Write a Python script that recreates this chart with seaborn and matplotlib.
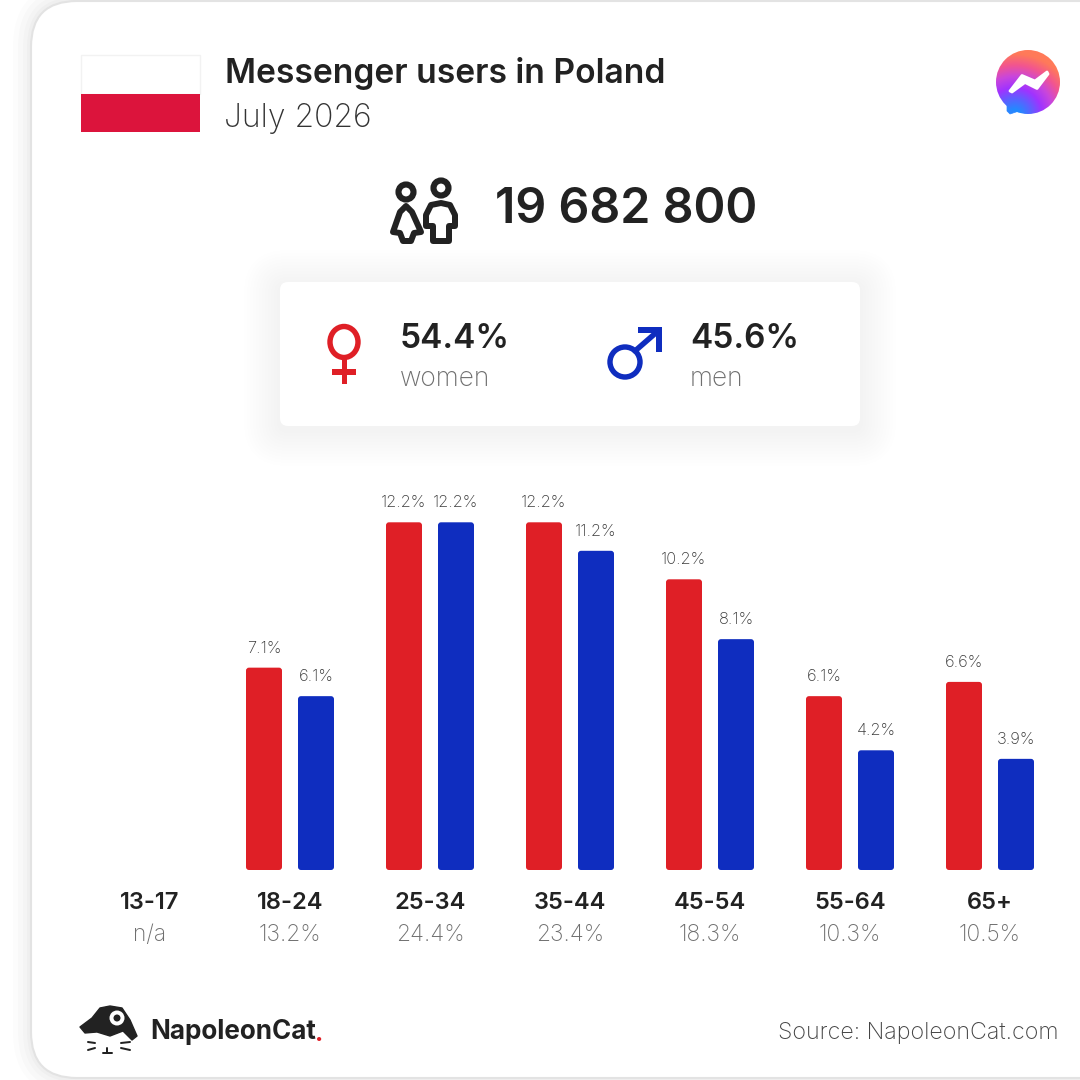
import matplotlib
matplotlib.use('Agg')
import matplotlib.pyplot as plt
from matplotlib.colors import LinearSegmentedColormap
from matplotlib.patches import Circle, Ellipse, FancyBboxPatch, PathPatch, Polygon, Rectangle
from matplotlib.path import Path
import numpy as np
import pandas as pd
import seaborn as sns

# Chart values
age_groups = ['13-17', '18-24', '25-34', '35-44', '45-54', '55-64', '65+']
age_shares = ['n/a', '13.2%', '24.4%', '23.4%', '18.3%', '10.3%', '10.5%']
women = [np.nan, 7.1, 12.2, 12.2, 10.2, 6.1, 6.6]
men = [np.nan, 6.1, 12.2, 11.2, 8.1, 4.2, 3.9]

title = 'Messenger users in Poland'
subtitle = 'July 2026'
total_users = '19 682 800'
women_share = '54.4%'
men_share = '45.6%'
source = 'Source: NapoleonCat.com'

RED = '#df1f26'
BLUE = '#0f2dbf'
DARK = '#222222'
GREY = '#6f6f6f'

sns.set_style('white')
plt.rcParams['font.family'] = ['Inter', 'DejaVu Sans']

fig = plt.figure(figsize=(10.8, 10.8), dpi=100, facecolor='white')

# background layer in pixel coordinates for card, icons and headers
bg = fig.add_axes([0, 0, 1, 1], zorder=0)
bg.set_xlim(0, 1080)
bg.set_ylim(1080, 0)
bg.axis('off')


def rounded(x0, y0, x1, y1, r, **kw):
    p = FancyBboxPatch((x0, y0), x1 - x0, y1 - y0,
                       boxstyle=f'round,pad=0,rounding_size={r}', **kw)
    bg.add_patch(p)
    return p


def stroke(points, color=DARK, lw=5, closed=False, z=5):
    codes = [Path.MOVETO] + [Path.LINETO] * (len(points) - 1)
    if closed:
        points = points + [points[0]]
        codes = codes + [Path.CLOSEPOLY]
    bg.add_patch(PathPatch(Path(points, codes), fill=False, ec=color, lw=lw * 0.72,
                           joinstyle='round', capstyle='round', zorder=z))


def label(x, y, s, px, color=DARK, weight='normal', ha='left'):
    bg.text(x, y, s, fontsize=px * 0.72, color=color, fontweight=weight, ha=ha, va='center', zorder=6)


# outer card with soft shadow
for grow, alpha in zip([18, 13, 8, 4], [0.012, 0.014, 0.016, 0.02]):
    rounded(31 - grow, 1 - grow, 1180, 1078 + grow, 46 + grow, fc='black', ec='none', alpha=alpha, zorder=1)
rounded(31, 1, 1180, 1078, 46, fc='white', ec='#e3e3e3', lw=1.5, zorder=1.5)

# flag
bg.add_patch(Rectangle((81, 55), 119, 39, fc='white', ec='#f2f2f2', lw=1, zorder=2))
bg.add_patch(Rectangle((81, 94), 119, 38, fc='#dc143c', ec='none', zorder=2))

# headers
label(225, 73, title, 33.6, weight='semibold')
label(224, 118, subtitle, 32, color='#333333', weight='light')
label(495, 210, total_users, 48.4, weight='semibold')

# people icon
bg.add_patch(Circle((406, 192), 7.5, fc='none', ec=DARK, lw=4.4, zorder=5))
bg.add_patch(Circle((441, 188), 7.5, fc='none', ec=DARK, lw=4.4, zorder=5))
stroke([(406, 206), (412, 212), (421, 232), (414, 233), (411, 241), (403, 241), (400, 233), (393, 232), (400, 212)], closed=True, lw=6)
stroke([(441, 203), (450, 205), (455, 215), (455, 226), (449, 226), (449, 241), (433, 241), (433, 226), (426, 226), (426, 215), (431, 205)], closed=True, lw=6)

# stats card with shadow
for grow in range(36, 0, -3):
    rounded(280 - grow, 282 - grow + 4, 860 + grow, 426 + grow + 4, 8 + grow, fc='black', ec='none', alpha=0.0028, zorder=2)
rounded(280, 282, 860, 426, 8, fc='white', ec='none', zorder=3)

# female sign
bg.add_patch(Ellipse((344, 342), 28, 31, fc='none', ec=RED, lw=3.9, zorder=5))
bg.add_patch(Rectangle((341.5, 358), 5, 26, fc=RED, ec='none', zorder=5))
bg.add_patch(Rectangle((332, 369), 24, 6, fc=RED, ec='none', zorder=5))

# male sign
bg.add_patch(Circle((625, 362), 15, fc='none', ec=BLUE, lw=3.9, zorder=5))
stroke([(635, 351), (658, 331)], color=BLUE, lw=5.5)
bg.add_patch(Polygon([(638, 327), (662, 327), (662, 352), (656, 352), (656, 333), (638, 333)], fc=BLUE, ec='none', zorder=5))

label(400, 339, women_share, 33.5, weight='semibold')
label(400, 379, 'women', 26.4, color=GREY, weight='light')
label(690, 339, men_share, 33.5, weight='semibold')
label(690, 379, 'men', 26.4, color=GREY, weight='light')

# messenger icon: gradient disc clipped to the bubble shape
cmap = LinearSegmentedColormap.from_list('msg', ['#1f8cff', '#5a62ff', '#a033ff', '#c946dc', '#f2558f', '#ff7a59'])
yy, xx = np.mgrid[0:1:80j, 0:1:80j]
grad = np.hypot(xx - 0.3, yy - 1.0)
img = bg.imshow(grad, cmap=cmap, vmin=0.08, vmax=0.92, extent=(994, 1062, 116, 48), aspect='auto', zorder=5)
bubble = Circle((1028, 82), 32, transform=bg.transData)
img.set_clip_path(bubble)
bg.add_patch(Polygon([(1007, 100), (1007, 111), (1010, 114), (1022, 110)], fc='#2a86ff', ec='#2a86ff', lw=0.5,
                     joinstyle='round', zorder=4.5))
bg.add_patch(Polygon([(1010, 91), (1022, 75.5), (1035, 81), (1047, 72), (1048, 74), (1037, 88.5), (1025, 82.5), (1012, 92)],
                     fc='white', ec='white', lw=2, joinstyle='round', zorder=6))
bg.set_xlim(0, 1080)
bg.set_ylim(1080, 0)

# NapoleonCat logo
hat = [(80, 1027), (92, 1018), (100, 1008), (110, 1006), (122, 1008), (130, 1020), (137, 1036), (132, 1040),
       (123, 1031), (110, 1036), (97, 1032), (85, 1033)]
bg.add_patch(Polygon(hat, fc=DARK, ec=DARK, lw=1, joinstyle='round', zorder=5))
bg.add_patch(Circle((117, 1018), 7.5, fc='white', ec='none', zorder=6))
bg.add_patch(Circle((117, 1018), 3.5, fc=DARK, ec='none', zorder=7))
for seg in [[(88, 1042), (95, 1043)], [(88, 1050), (95, 1048)], [(121, 1043), (130, 1042)], [(121, 1048), (130, 1050)],
            [(107, 1048), (107, 1053)], [(103, 1053), (112, 1053)]]:
    stroke(seg, lw=2)
label(150, 1032, 'NapoleonCat', 26, weight='bold')
bg.text(315, 1041, '.', fontsize=18, color=RED, fontweight='bold', ha='left', va='baseline', zorder=6)
label(1058, 1033, source, 23.2, color='#444444', weight='light', ha='right')

# bars: one category is 140 px, one percent is 28.5 px, baseline at y=870
y_top = 13.0
ax = fig.add_axes([80 / 1080, (1080 - 870) / 1080, 980 / 1080, y_top * 28.5 / 1080], zorder=3)
ax.patch.set_alpha(0)

df = pd.DataFrame({'age': age_groups, 'women': women, 'men': men})
long_df = df.melt(id_vars='age', var_name='sex', value_name='share').dropna()

sns.barplot(data=long_df, x='age', y='share', hue='sex', order=age_groups, hue_order=['women', 'men'],
            palette={'women': RED, 'men': BLUE}, width=52 * 2 / 140, gap=1 - 36 / 52, legend=False, ax=ax,
            saturation=1, errorbar=None)

for c in ax.containers:
    ax.bar_label(c, fmt='%.1f%%', padding=8.5, fontsize=11.8, color='#3a3a3a', fontweight='light')
    for b in c:
        r = FancyBboxPatch((b.get_x(), 0), b.get_width(), b.get_height(),
                           boxstyle=f'round,pad=0,rounding_size={3 / 140}', mutation_aspect=140 / 28.5,
                           fc=b.get_facecolor(), ec='none')
        ax.add_patch(r)
        b.set_visible(False)

ax.set_xlim(-0.5, 6.5)
ax.set_ylim(0, y_top)
ax.set_xlabel('')
ax.set_ylabel('')
ax.set_yticks([])
ax.tick_params(axis='x', length=0, pad=16, labelsize=17, labelcolor=DARK)
for t in ax.get_xticklabels():
    t.set_fontweight('semibold')
sns.despine(ax=ax, left=True, bottom=True)

for i, share in enumerate(age_shares):
    ax.annotate(share, xy=(i, 0), xytext=(0, -47), textcoords='offset points', ha='center', va='center',
                fontsize=16.4, color=GREY, fontweight='light')

fig.savefig('out.png', dpi=100)
